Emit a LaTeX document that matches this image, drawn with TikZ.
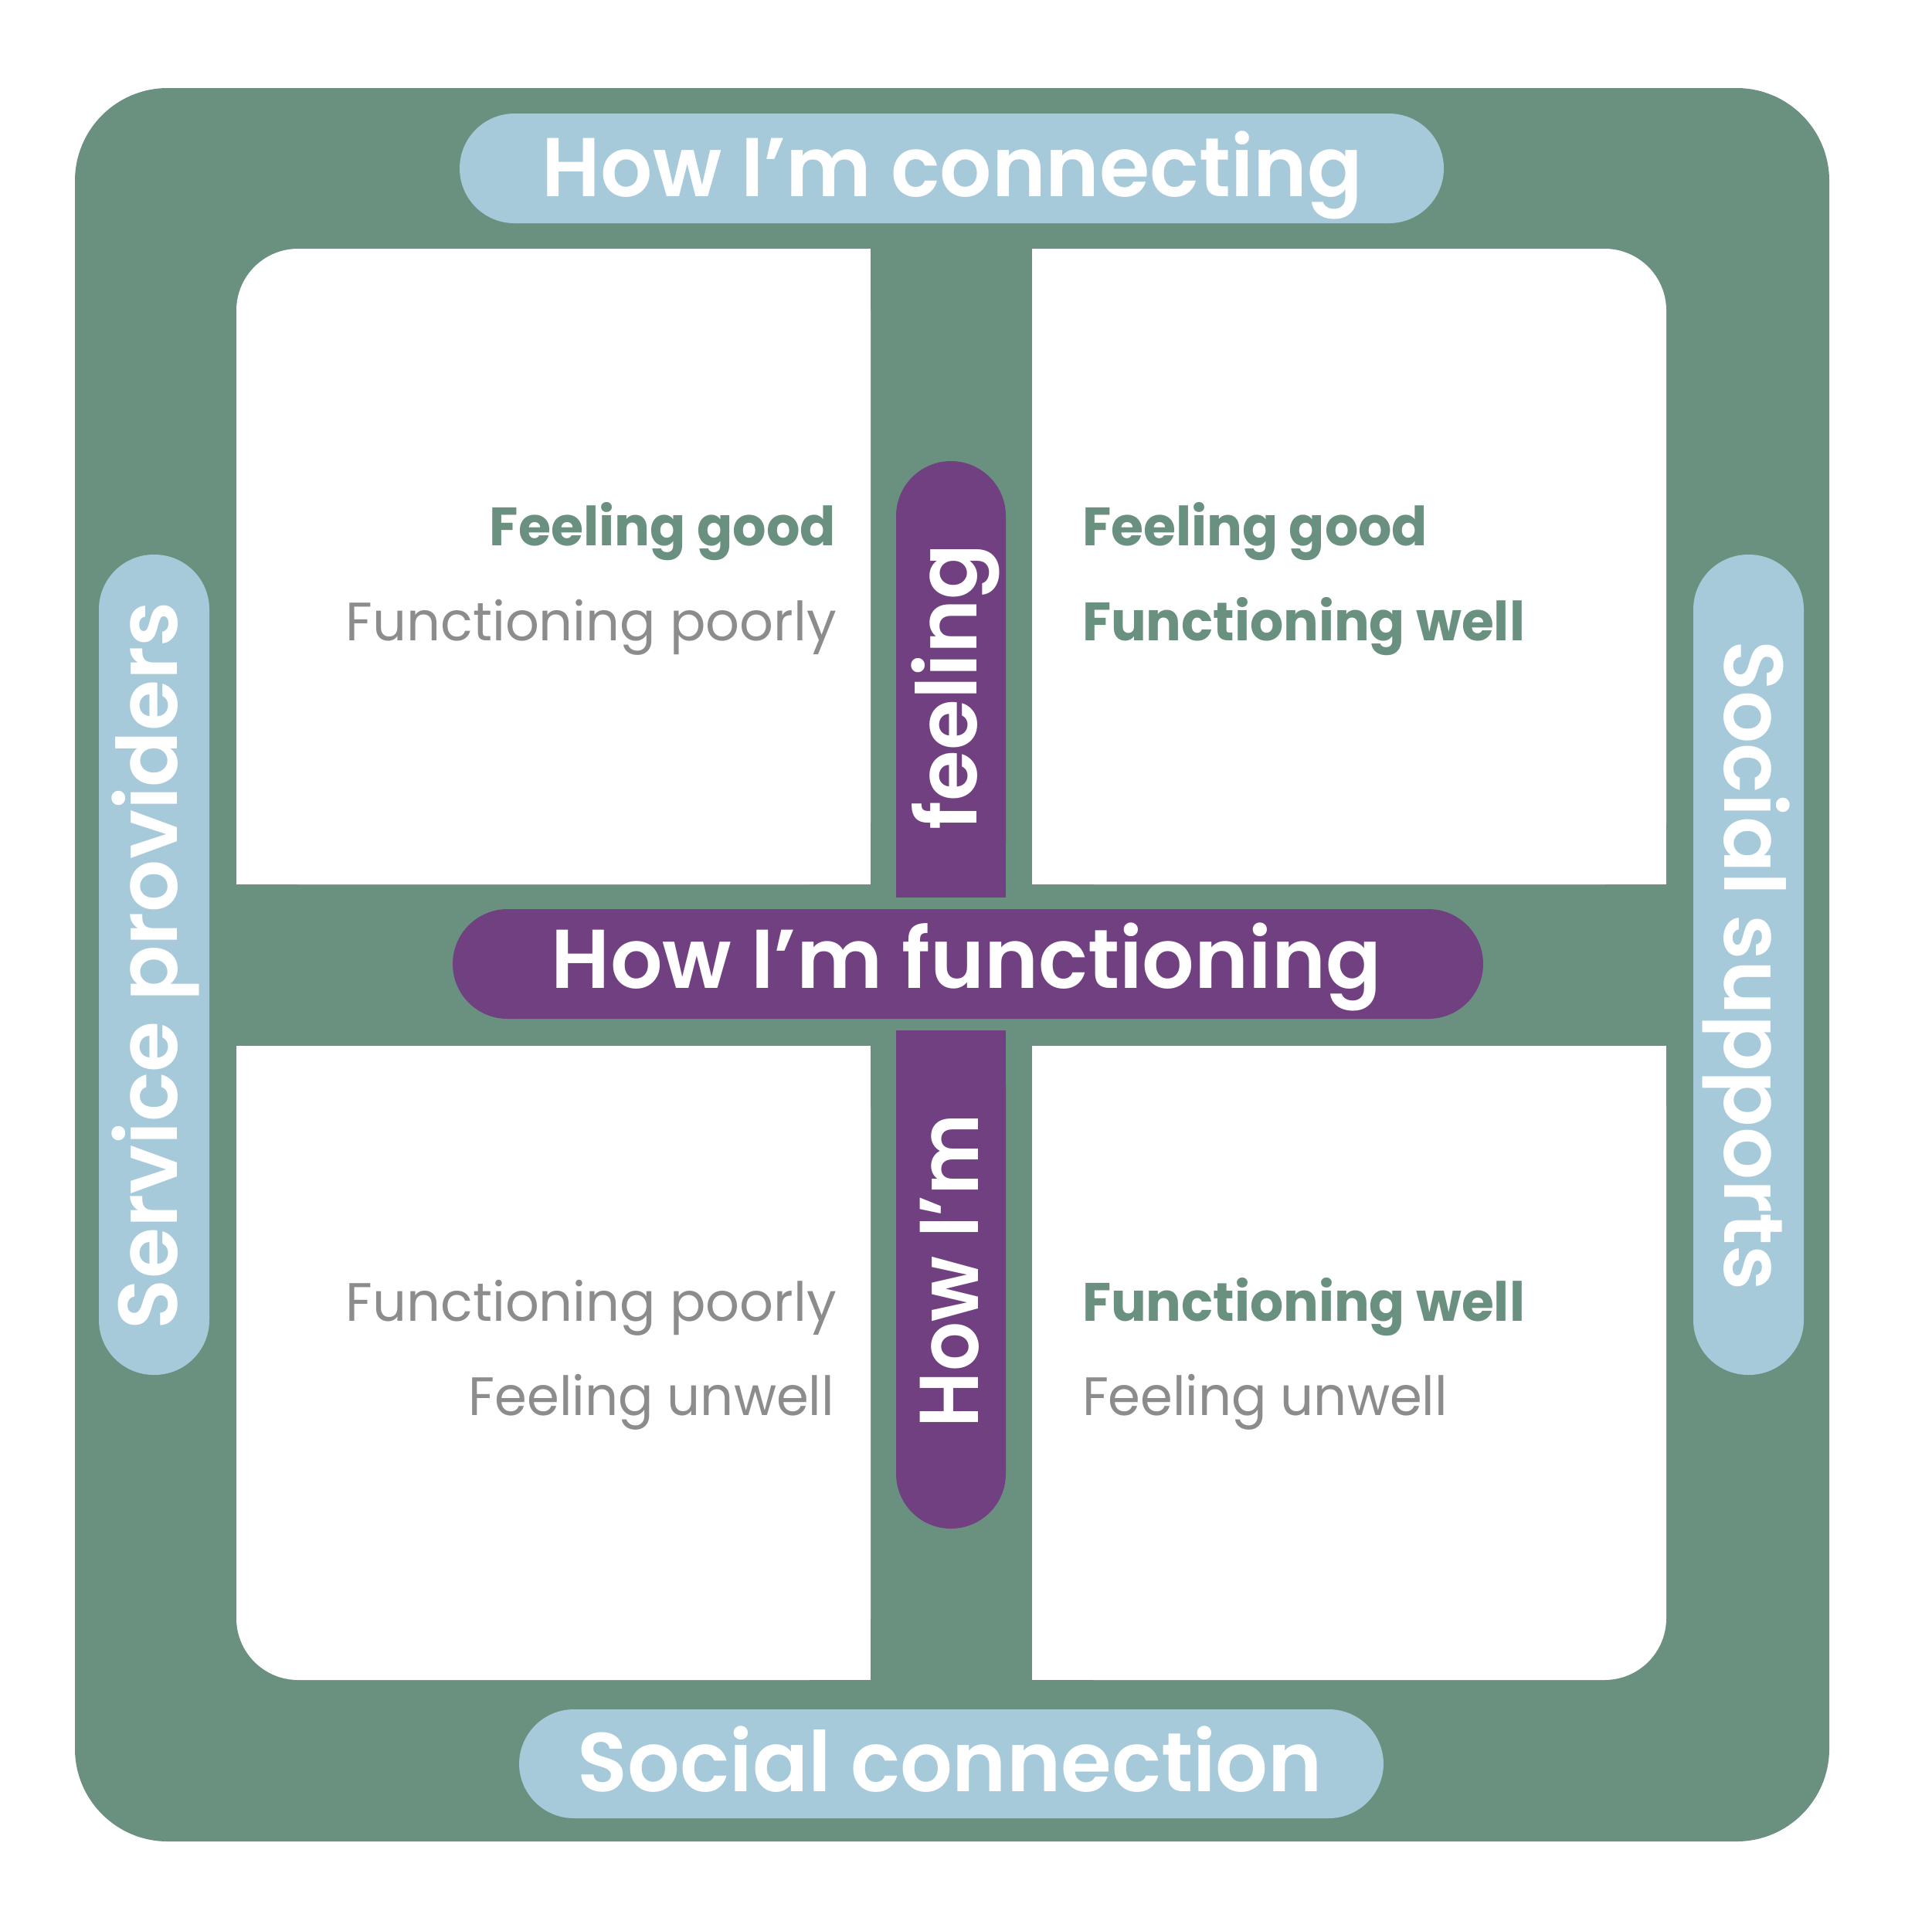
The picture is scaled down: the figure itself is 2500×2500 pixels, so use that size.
\documentclass[tikz,border=0pt]{standalone}
\usepackage{fontspec}
\setmainfont{Poppins}
\newfontfamily\semifont{Poppins SemiBold}
\usepackage{graphicx}
\definecolor{framegreen}{RGB}{106,145,127}
\definecolor{paleblue}{RGB}{167,202,219}
\definecolor{deeppurple}{RGB}{113,64,128}
\definecolor{softgray}{RGB}{140,140,140}
\newcommand\fitw[2]{\resizebox{#1pt}{\height}{#2}}
\tikzset{
  headtxt/.style={text=white,font=\semifont\fontsize{108}{108}\selectfont},
  goodtxt/.style={text=framegreen,font=\bfseries\fontsize{70}{70}\selectfont},
  poortxt/.style={text=softgray,font=\fontsize{70}{70}\selectfont},
  pillshape/.style={rounded corners=71pt},
}
\begin{document}
\begin{tikzpicture}[x=1pt,y=-1pt,every node/.style={inner sep=0pt,outer sep=0pt}]
\useasboundingbox (0,0) rectangle (2500,2500);
% outer frame
\fill[framegreen,rounded corners=120pt] (97,114) rectangle (2368,2384);
% quadrants
\fill[white,rounded corners=80pt] (306,322) rectangle (1127,1145);
\fill[white] (700,322) rectangle (1127,1145);
\fill[white] (306,700) rectangle (1127,1145);
\fill[white,rounded corners=80pt] (1336,322) rectangle (2157,1145);
\fill[white] (1336,322) rectangle (1800,1145);
\fill[white] (1336,700) rectangle (2157,1145);
\fill[white,rounded corners=80pt] (306,1354) rectangle (1127,2175);
\fill[white] (700,1354) rectangle (1127,2175);
\fill[white] (306,1354) rectangle (1127,1800);
\fill[white,rounded corners=80pt] (1336,1354) rectangle (2157,2175);
\fill[white] (1336,1354) rectangle (1800,2175);
\fill[white] (1336,1354) rectangle (2157,1800);
% blue pills
\fill[paleblue,pillshape] (595,147) rectangle (1869,289);
\fill[paleblue,pillshape] (672,2213) rectangle (1791,2354);
\fill[paleblue,pillshape] (128,718) rectangle (271,1780);
\fill[paleblue,pillshape] (2192,718) rectangle (2335,1780);
% purple pills
\fill[deeppurple,pillshape] (586,1177) rectangle (1920,1319);
\fill[deeppurple,pillshape] (1160,597) rectangle (1302,1162);
\fill[deeppurple] (1160,800) rectangle (1302,1162);
\fill[deeppurple,pillshape] (1160,1334) rectangle (1302,1979);
\fill[deeppurple] (1160,1334) rectangle (1302,1700);
% headings
\node[headtxt,anchor=base] (connecting) at (1233,254) {\fitw{1062}{How I’m connecting}};
\node[headtxt,anchor=base] (functioning) at (1251,1279) {\fitw{1074}{How I’m functioning}};
\node[headtxt,anchor=base] (socialconn) at (1230,2319) {\fitw{964}{Social connection}};
\node[headtxt,anchor=base,rotate=90] (service) at (229,1250) {\fitw{942}{Service providers}};
\node[headtxt,anchor=base,rotate=-90] (supports) at (2232,1250) {\fitw{841}{Social supports}};
\node[headtxt,anchor=base,rotate=90] (feeling) at (1264,889) {\fitw{370}{feeling}};
\node[headtxt,anchor=base,rotate=90] (howim) at (1266,1645) {\fitw{406}{How I’m}};
% quadrant texts
\node[goodtxt,anchor=base east] (tl1) at (1082,706) {\fitw{448}{Feeling good}};
\node[poortxt,anchor=base east] (tl2) at (1083,829) {\fitw{635}{Functioning poorly}};
\node[goodtxt,anchor=base west] (tr1) at (1401,706) {\fitw{447}{Feeling good}};
\node[goodtxt,anchor=base west] (tr2) at (1401,829) {\fitw{573}{Functioning well}};
\node[poortxt,anchor=base east] (bl1) at (1083,1710) {\fitw{635}{Functioning poorly}};
\node[poortxt,anchor=base east] (bl2) at (1080,1832) {\fitw{473}{Feeling unwell}};
\node[goodtxt,anchor=base west] (br1) at (1401,1710) {\fitw{573}{Functioning well}};
\node[poortxt,anchor=base west] (br2) at (1401,1832) {\fitw{473}{Feeling unwell}};
\end{tikzpicture}
\end{document}
